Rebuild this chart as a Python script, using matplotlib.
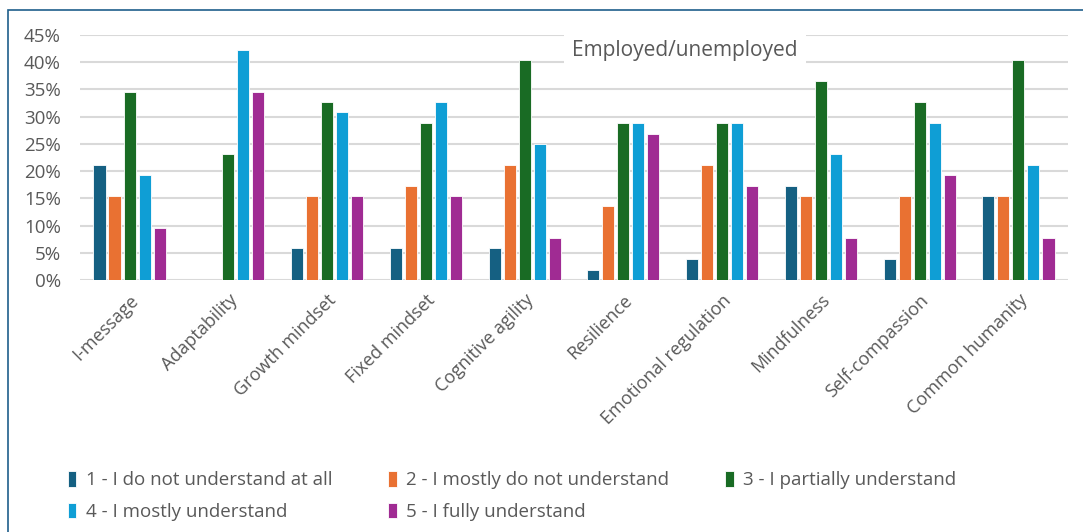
import matplotlib
matplotlib.use("Agg")
import matplotlib.pyplot as plt
from matplotlib.patches import Rectangle
from matplotlib.ticker import PercentFormatter
import numpy as np

plt.rcParams['font.family'] = ['Open Sans', 'DejaVu Sans']

# data: share of 52 respondents per understanding level
skills = ["I-message", "Adaptability", "Growth mindset", "Fixed mindset",
          "Cognitive agility", "Resilience", "Emotional regulation",
          "Mindfulness", "Self-compassion", "Common humanity"]
levels = ["1 - I do not understand at all", "2 - I mostly do not understand",
          "3 - I partially understand", "4 - I mostly understand",
          "5 - I fully understand"]
lvl1 = [0.212, 0.0, 0.058, 0.058, 0.058, 0.019, 0.038, 0.173, 0.038, 0.154]
lvl2 = [0.154, 0.0, 0.154, 0.173, 0.212, 0.135, 0.212, 0.154, 0.154, 0.154]
lvl3 = [0.346, 0.231, 0.327, 0.288, 0.404, 0.288, 0.288, 0.365, 0.327, 0.404]
lvl4 = [0.192, 0.423, 0.308, 0.327, 0.250, 0.288, 0.288, 0.231, 0.288, 0.212]
lvl5 = [0.096, 0.346, 0.154, 0.154, 0.077, 0.269, 0.173, 0.077, 0.192, 0.077]
colors = ["#156082", "#E97132", "#196B24", "#0F9ED5", "#A02B93"]

fig = plt.figure(figsize=(10.83, 5.32), dpi=100)
ax = fig.add_axes([0.074, 0.4737, 0.912, 0.4605])

x = np.arange(len(skills))
w = 0.122
step = 0.152
bars = []
for i, vals in enumerate([lvl1, lvl2, lvl3, lvl4, lvl5]):
    b = ax.bar(x + (i - 2) * step, vals, w, color=colors[i], label=levels[i],
               edgecolor="white", linewidth=0.6, zorder=3)
    bars.append(b)

ax.set_xlim(-0.5, len(skills) - 0.5)
ax.set_ylim(0, 0.45)
ax.set_yticks(np.arange(0, 0.451, 0.05))
ax.yaxis.set_major_formatter(PercentFormatter(1.0, decimals=0))
ax.set_xticks(x)
ax.set_xticklabels(skills, rotation=45, ha="right", rotation_mode="anchor")
ax.tick_params(axis="both", length=0, labelcolor="#595959")
ax.tick_params(axis="x", pad=8, labelsize=13)
ax.tick_params(axis="y", pad=14, labelsize=13.5)
ax.grid(axis="y", color="#D9D9D9", linewidth=1.5, zorder=0)
for s in ax.spines.values():
    s.set_visible(False)

ax.text(0.612, 0.935, "Employed/unemployed", transform=ax.transAxes,
        ha="center", va="center", fontsize=15, color="#595959", zorder=5,
        bbox=dict(facecolor="white", edgecolor="none", pad=6))

# row-wise legend order in 3 columns
order = [0, 3, 1, 4, 2]
leg = fig.legend([bars[i] for i in order], [levels[i] for i in order],
                 loc="upper left", bbox_to_anchor=(0.047, 0.146), ncol=3,
                 frameon=False, fontsize=13.5, handlelength=0.45,
                 handleheight=0.9, handletextpad=0.5, columnspacing=3.0,
                 labelspacing=0.7)
for t in leg.get_texts():
    t.set_color("#595959")

# outer chart frame
fig.add_artist(Rectangle((8 / 1083, -0.05), 1.1, 1 - 10 / 532 + 0.05,
                         transform=fig.transFigure, fill=False,
                         edgecolor="#1F5F8B", linewidth=1.2))

fig.savefig("out.png", dpi=100)
